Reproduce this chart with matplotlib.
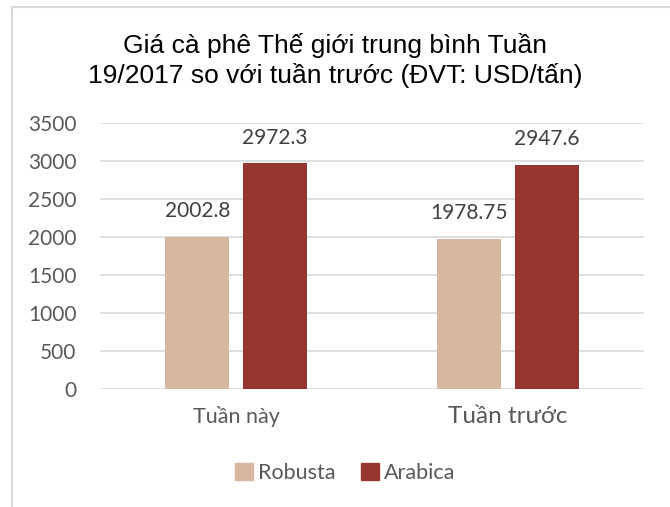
import matplotlib
matplotlib.use("Agg")
import matplotlib.pyplot as plt
import numpy as np
from matplotlib.patches import Rectangle

categories = ["Tuần này", "Tuần trước"]
series_names = ["Robusta", "Arabica"]
robusta = [2002.8, 1978.75]
arabica = [2972.3, 2947.6]
robusta_labels = ["2002.8", "1978.75"]
arabica_labels = ["2972.3", "2947.6"]
yticks = [0, 500, 1000, 1500, 2000, 2500, 3000, 3500]

c_rob = "#D7B7A1"
c_ara = "#963631"
tick_col = "#595959"

fig = plt.figure(figsize=(6.70, 5.07), dpi=100)
ax = fig.add_axes([100/670, 1-389.3/507, 544/670, (389.3-122.7)/507])

x = np.arange(len(categories))
w = 0.235
off = 0.142
b1 = ax.bar(x - off, robusta, w, color=c_rob, zorder=3)
b2 = ax.bar(x + off, arabica, w, color=c_ara, zorder=3)

for rect, lab in zip(b1, robusta_labels):
    ax.annotate(lab, (rect.get_x()+rect.get_width()/2, rect.get_height()),
                xytext=(0, 11), textcoords="offset points", ha="center", va="bottom",
                fontsize=15, color="#404040", family="Lato")
for rect, lab in zip(b2, arabica_labels):
    ax.annotate(lab, (rect.get_x()+rect.get_width()/2, rect.get_height()),
                xytext=(0, 11), textcoords="offset points", ha="center", va="bottom",
                fontsize=15, color="#404040", family="Lato")

ax.set_xlim(-0.5, 1.5)
ax.set_ylim(0, 3500)
ax.set_yticks(yticks)
ax.set_yticklabels([str(v) for v in yticks], fontsize=15, color=tick_col, family="Lato")
ax.grid(axis="y", color="#D9D9D9", linewidth=1.2, zorder=0)
for s in ax.spines.values():
    s.set_visible(False)
ax.tick_params(axis="y", length=0, pad=17)
ax.tick_params(axis="x", length=0, pad=12)
ax.set_xticks(x)
ax.set_xticklabels(categories, color=tick_col, family="Lato")
ax.get_xticklabels()[0].set_fontsize(15.5)
ax.get_xticklabels()[1].set_fontsize(17.5)

fig.text(0.5, 1-45/507, "Giá cà phê Thế giới trung bình Tuần", ha="center", va="center",
         fontsize=19, family="Liberation Sans", color="black")
fig.text(0.5, 1-75/507, "19/2017 so với tuần trước (ĐVT: USD/tấn)", ha="center", va="center",
         fontsize=19, family="Liberation Sans", color="black")

# frame border
fig.add_artist(plt.Line2D([12/670, 1], [1-7/507, 1-7/507], color="#D9D9D9", lw=1.5, transform=fig.transFigure))
fig.add_artist(plt.Line2D([12/670, 12/670], [0, 1-7/507], color="#D9D9D9", lw=1.5, transform=fig.transFigure))

leg = fig.legend(handles=[Rectangle((0, 0), 1, 1, color=c_rob), Rectangle((0, 0), 1, 1, color=c_ara)],
                 labels=series_names, loc="center", bbox_to_anchor=(345/670, 1-473/507), ncol=2,
                 frameon=False, fontsize=15.5, handlelength=0.85, handleheight=0.85,
                 handletextpad=0.2, columnspacing=1.2)
for t in leg.get_texts():
    t.set_color(tick_col)
    t.set_family("Lato")

fig.savefig("out.png", dpi=100)
